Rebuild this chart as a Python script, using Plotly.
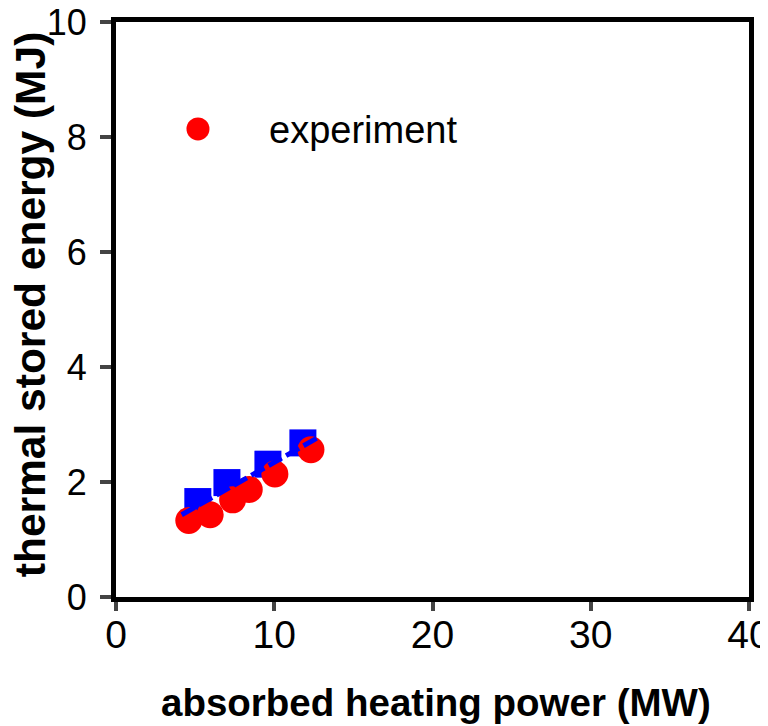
import plotly.graph_objects as go

exp_power = [4.6, 5.95, 7.37, 8.42, 10.04, 12.32]
exp_energy = [1.33, 1.43, 1.69, 1.87, 2.14, 2.56]
sim_power = [5.17, 7.01, 9.6, 11.81]
sim_energy = [1.66, 1.99, 2.31, 2.68]
fit_power = [4.15, 12.68]
fit_energy = [1.43, 2.76]

x_ticks = [0, 10, 20, 30, 40]
y_ticks = [0, 2, 4, 6, 8, 10]

fig = go.Figure()
fig.add_trace(go.Scatter(
    x=sim_power, y=sim_energy, mode="markers",
    marker=dict(symbol="square", size=27, color="#0000ff"),
    showlegend=False, cliponaxis=False))
fig.add_trace(go.Scatter(
    x=exp_power, y=exp_energy, mode="markers", name="experiment",
    marker=dict(symbol="circle", size=27, color="#ff0000"),
    showlegend=False, cliponaxis=False))
fig.add_trace(go.Scatter(
    x=fit_power, y=fit_energy, mode="lines",
    line=dict(color="#0000ff", width=5, dash="15px,5px"),
    showlegend=False, cliponaxis=False))

font = "Liberation Sans, Arial, sans-serif"
fig.update_layout(
    width=760, height=718,
    margin=dict(l=108, r=19, t=14, b=129, autoexpand=False),
    plot_bgcolor="white", paper_bgcolor="white",
    font=dict(family=font, color="black", size=38),
    showlegend=False,
    shapes=[dict(type="circle", xref="paper", yref="paper",
                 xsizemode="pixel", ysizemode="pixel",
                 xanchor=0.1295, yanchor=0.814,
                 x0=-11.5, x1=11.5, y0=-11.5, y1=11.5,
                 fillcolor="#ff0000", line=dict(width=0))],
    annotations=[
        dict(text="experiment", xref="paper", yref="paper", x=0.2385, y=0.812,
             xanchor="left", yanchor="middle", showarrow=False,
             font=dict(size=38, family=font)),
        dict(text="<b>absorbed heating power (MW)</b>", xref="paper", yref="paper",
             x=0.505, y=-0.184, xanchor="center", yanchor="middle", showarrow=False,
             font=dict(size=38.5, family=font)),
        dict(text="<b>thermal stored energy (MJ)</b>", xref="paper", yref="paper",
             x=-0.136, y=0.509, xanchor="center", yanchor="middle", showarrow=False,
             textangle=-90,
             font=dict(size=42.5, family="Liberation Sans Narrow, Arial Narrow, sans-serif")),
    ],
)
fig.update_xaxes(
    range=[0, 40], tickvals=x_ticks, ticks="outside", ticklen=9, tickwidth=4,
    showline=True, linewidth=5, linecolor="black", mirror=True, showgrid=False,
    zeroline=False, tickfont=dict(size=39), automargin=False, ticklabelstandoff=-10,
    ticklabeloverflow="allow")
fig.update_yaxes(
    range=[0, 10], tickvals=y_ticks, ticks="outside", ticklen=11, tickwidth=4,
    showline=True, linewidth=5, linecolor="black", mirror=True, showgrid=False,
    zeroline=False, tickfont=dict(size=36), automargin=False, ticklabelstandoff=6,
    ticklabeloverflow="allow")

fig.write_html("out.html")
